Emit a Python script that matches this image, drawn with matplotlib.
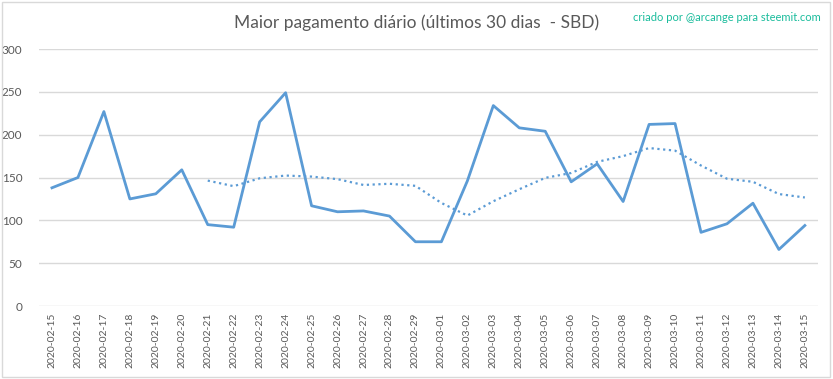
import matplotlib.pyplot as plt
from matplotlib.patches import Rectangle

plt.rcParams['font.family'] = ['Lato', 'DejaVu Sans']

dates = ['2020-02-15', '2020-02-16', '2020-02-17', '2020-02-18', '2020-02-19',
         '2020-02-20', '2020-02-21', '2020-02-22', '2020-02-23', '2020-02-24',
         '2020-02-25', '2020-02-26', '2020-02-27', '2020-02-28', '2020-02-29',
         '2020-03-01', '2020-03-02', '2020-03-03', '2020-03-04', '2020-03-05',
         '2020-03-06', '2020-03-07', '2020-03-08', '2020-03-09', '2020-03-10',
         '2020-03-11', '2020-03-12', '2020-03-13', '2020-03-14', '2020-03-15']
payout = [138, 150, 227, 125, 131, 159, 95, 92, 215, 249,
          117, 110, 111, 105, 75, 75, 146, 234, 208, 204,
          145, 166, 122, 212, 213, 86, 96, 120, 66, 94]
# media movel de 7 dias, comeca em 02-21
trend = [None] * 6 + [146.4, 139.9, 149.1, 152.3, 151.1, 148.1, 141.3, 142.7,
                      140.3, 120.3, 105.6, 122.3, 136.3, 149.6, 155.3, 168.3,
                      175.0, 184.4, 181.4, 164.0, 148.6, 145.0, 130.7, 126.7]
yticks = [0, 50, 100, 150, 200, 250, 300]

blue = '#5B9BD5'
grey = '#595959'

fig = plt.figure(figsize=(8.33, 3.79), dpi=100)
ax = fig.add_axes([0.0468, 0.1926, 0.935, 0.678])

x = list(range(len(dates)))
ax.plot(x, payout, color=blue, lw=2.0, solid_joinstyle='round')
tx = [i for i, v in enumerate(trend) if v is not None]
ty = [v for v in trend if v is not None]
ax.plot(tx, ty, color=blue, lw=1.6, linestyle=(0, (1, 1.6)))

ax.set_xlim(-0.5, len(dates) - 0.5)
ax.set_ylim(0, 300)
ax.set_yticks(yticks)
ax.set_xticks(x)
ax.set_xticklabels(dates, rotation=90, fontsize=7.5, color=grey)
ax.tick_params(axis='y', labelsize=8.5, labelcolor=grey, length=0, pad=12)
ax.tick_params(axis='x', length=0, pad=5)
ax.grid(axis='y', color='#D9D9D9', lw=1)
ax.set_axisbelow(True)
for s in ax.spines.values():
    s.set_visible(False)

fig.text(0.5, 0.94, 'Maior pagamento diário (últimos 30 dias  - SBD)',
         ha='center', va='center', fontsize=12.5, color=grey)
fig.text(0.985, 0.955, 'criado por @arcange para steemit.com',
         ha='right', va='center', fontsize=8, color='#1ABC9C')

fig.patches.append(Rectangle((0.002, 0.004), 0.994, 0.992, transform=fig.transFigure,
                             fill=False, edgecolor='#D9D9D9', lw=1))

fig.savefig('out.png', dpi=100)
